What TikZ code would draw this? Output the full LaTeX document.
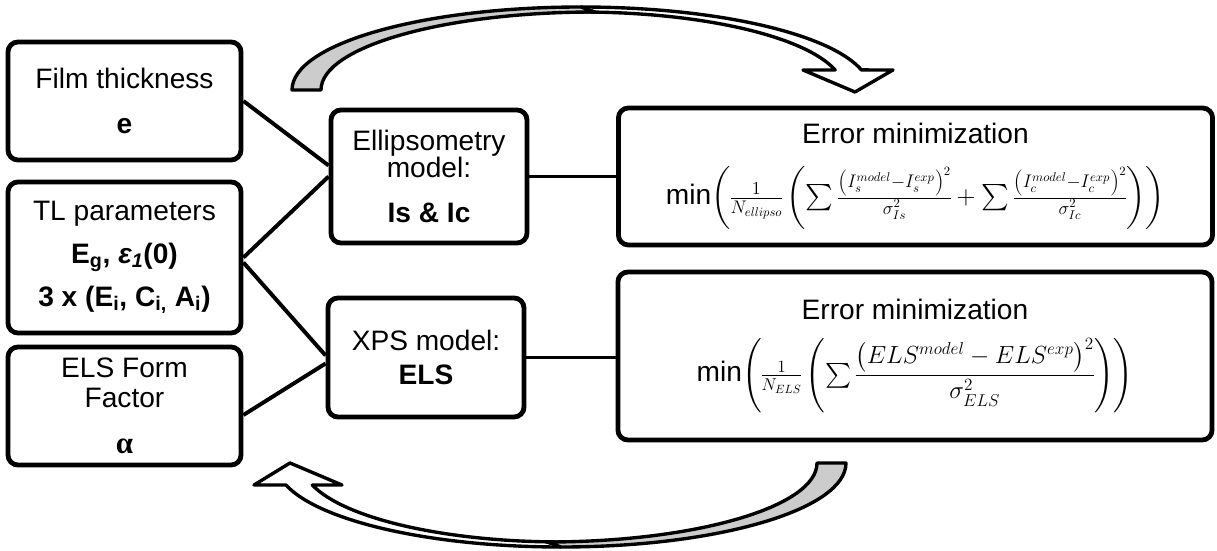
\documentclass[tikz,border=0pt]{standalone}
\usepackage{amsmath}
\usepackage{graphicx}
\usepackage{fontspec}
\setmainfont{Liberation Sans}
\newfontfamily\greekfont{Liberation Serif}
\usetikzlibrary{positioning, calc}
\tikzset{
    inbox/.style={
        rectangle,
        rounded corners=0.25cm,
        draw=black,
        line width=3.4pt,
        fill=white,
        minimum width=5.825cm,
        align=center,
        inner sep=0pt,
        font=\fontsize{20}{23}\selectfont
    },
    modelbox/.style={
        inbox,
        minimum width=4.9cm
    },
    errbox/.style={
        inbox,
        minimum width=14.85cm
    },
    link/.style={
        line width=2.8pt
    },
    bigarrow/.style={
        draw=black,
        line width=2.4pt,
        line join=round
    }
}
\nulldelimiterspace=0pt

\begin{document}
\begin{tikzpicture}[x=0.025cm, y=0.025cm]

    \useasboundingbox (0,0) rectangle (1217,-551);

    % Inputs
    \node[inbox, minimum height=2.95cm] (film) at (124.5,-101) {Film thickness\\[9pt]\textbf{e}};
    \node[inbox, minimum height=3.775cm] (tl) at (124.5,-257.5) {TL parameters\\[7.5pt]\textbf{E\textsubscript{g}, \textit{ε\textsubscript{1}}(0)}\\[7.5pt]\textbf{3 x (E\textsubscript{i}, C\textsubscript{i,} A\textsubscript{i})}};
    \node[inbox, minimum height=2.95cm] (els) at (124.5,-406) {ELS Form\\[-2pt]Factor\\[10pt]{\greekfont\bfseries\fontsize{22}{23}\selectfont α}};

    % Models
    \node[modelbox, minimum height=3.325cm] (ell) at (429,-176.5) {Ellipsometry\\[-4pt]model:\\[9.5pt]\textbf{Is \& Ic}};
    \node[modelbox, minimum height=2.975cm] (xps) at (426,-357.5) {XPS model:\\[1pt]\textbf{ELS}};

    % Error minimization
    \node[errbox, minimum height=3.425cm] (err1) at (915.5,-176.5) {Error minimization\\[15pt]min\scalebox{0.9}{$\left(\frac{1}{N_{ellipso}}\left(\sum\frac{\left(I_s^{model}-I_s^{exp}\right)^2}{\sigma_{Is}^2}+\sum\frac{\left(I_c^{model}-I_c^{exp}\right)^2}{\sigma_{Ic}^2}\right)\right)$}};
    \node[errbox, minimum height=4.2cm] (err2) at (915,-356) {Error minimization\\[12pt]min\scalebox{0.85}{$\left(\frac{1}{N_{ELS}}\left(\sum\dfrac{\left(ELS^{model}-ELS^{exp}\right)^2}{\sigma_{ELS}^2}\right)\right)$}};

    % Links
    \draw[link] (film.east) -- ($(ell.west)+(0,11)$);
    \draw[link] (tl.east) -- (ell.west);
    \draw[link] ($(tl.east)+(0,-5)$) -- ($(xps.west)+(0,2)$);
    \draw[link] ($(els.east)+(0,-9)$) -- ($(xps.west)+(0,-6)$);
    \draw[link] (ell.east) -- (ell.east -| err1.west);
    \draw[link] (xps.east) -- (xps.east -| err2.west);

    % Loop arrows
    \path[bigarrow, fill=white] (581,-7) arc[start angle=90, end angle=14, x radius=289, y radius=83] -- (893,-70) -- (855,-92) -- (803,-70) -- (835.2,-70) arc[start angle=14.86, end angle=90, x radius=263, y radius=78] -- cycle;
    \path[bigarrow, fill=gray!40] (292,-90) arc[start angle=180, end angle=90, x radius=289, y radius=83] -- (595,-12) arc[start angle=90, end angle=180, x radius=274, y radius=78] -- cycle;

    \path[bigarrow, fill=white] (561,-547) arc[start angle=-90, end angle=-164.8, x radius=285, y radius=84] -- (254,-485) -- (290,-463) -- (342,-485) -- (312.3,-485) arc[start angle=-163.8, end angle=-90, x radius=259, y radius=79] -- cycle;
    \path[bigarrow, fill=gray!40] (846,-463) arc[start angle=0, end angle=-90, x radius=285, y radius=84] -- (547,-542) arc[start angle=-90, end angle=0, x radius=270, y radius=79] -- cycle;

\end{tikzpicture}
\end{document}
